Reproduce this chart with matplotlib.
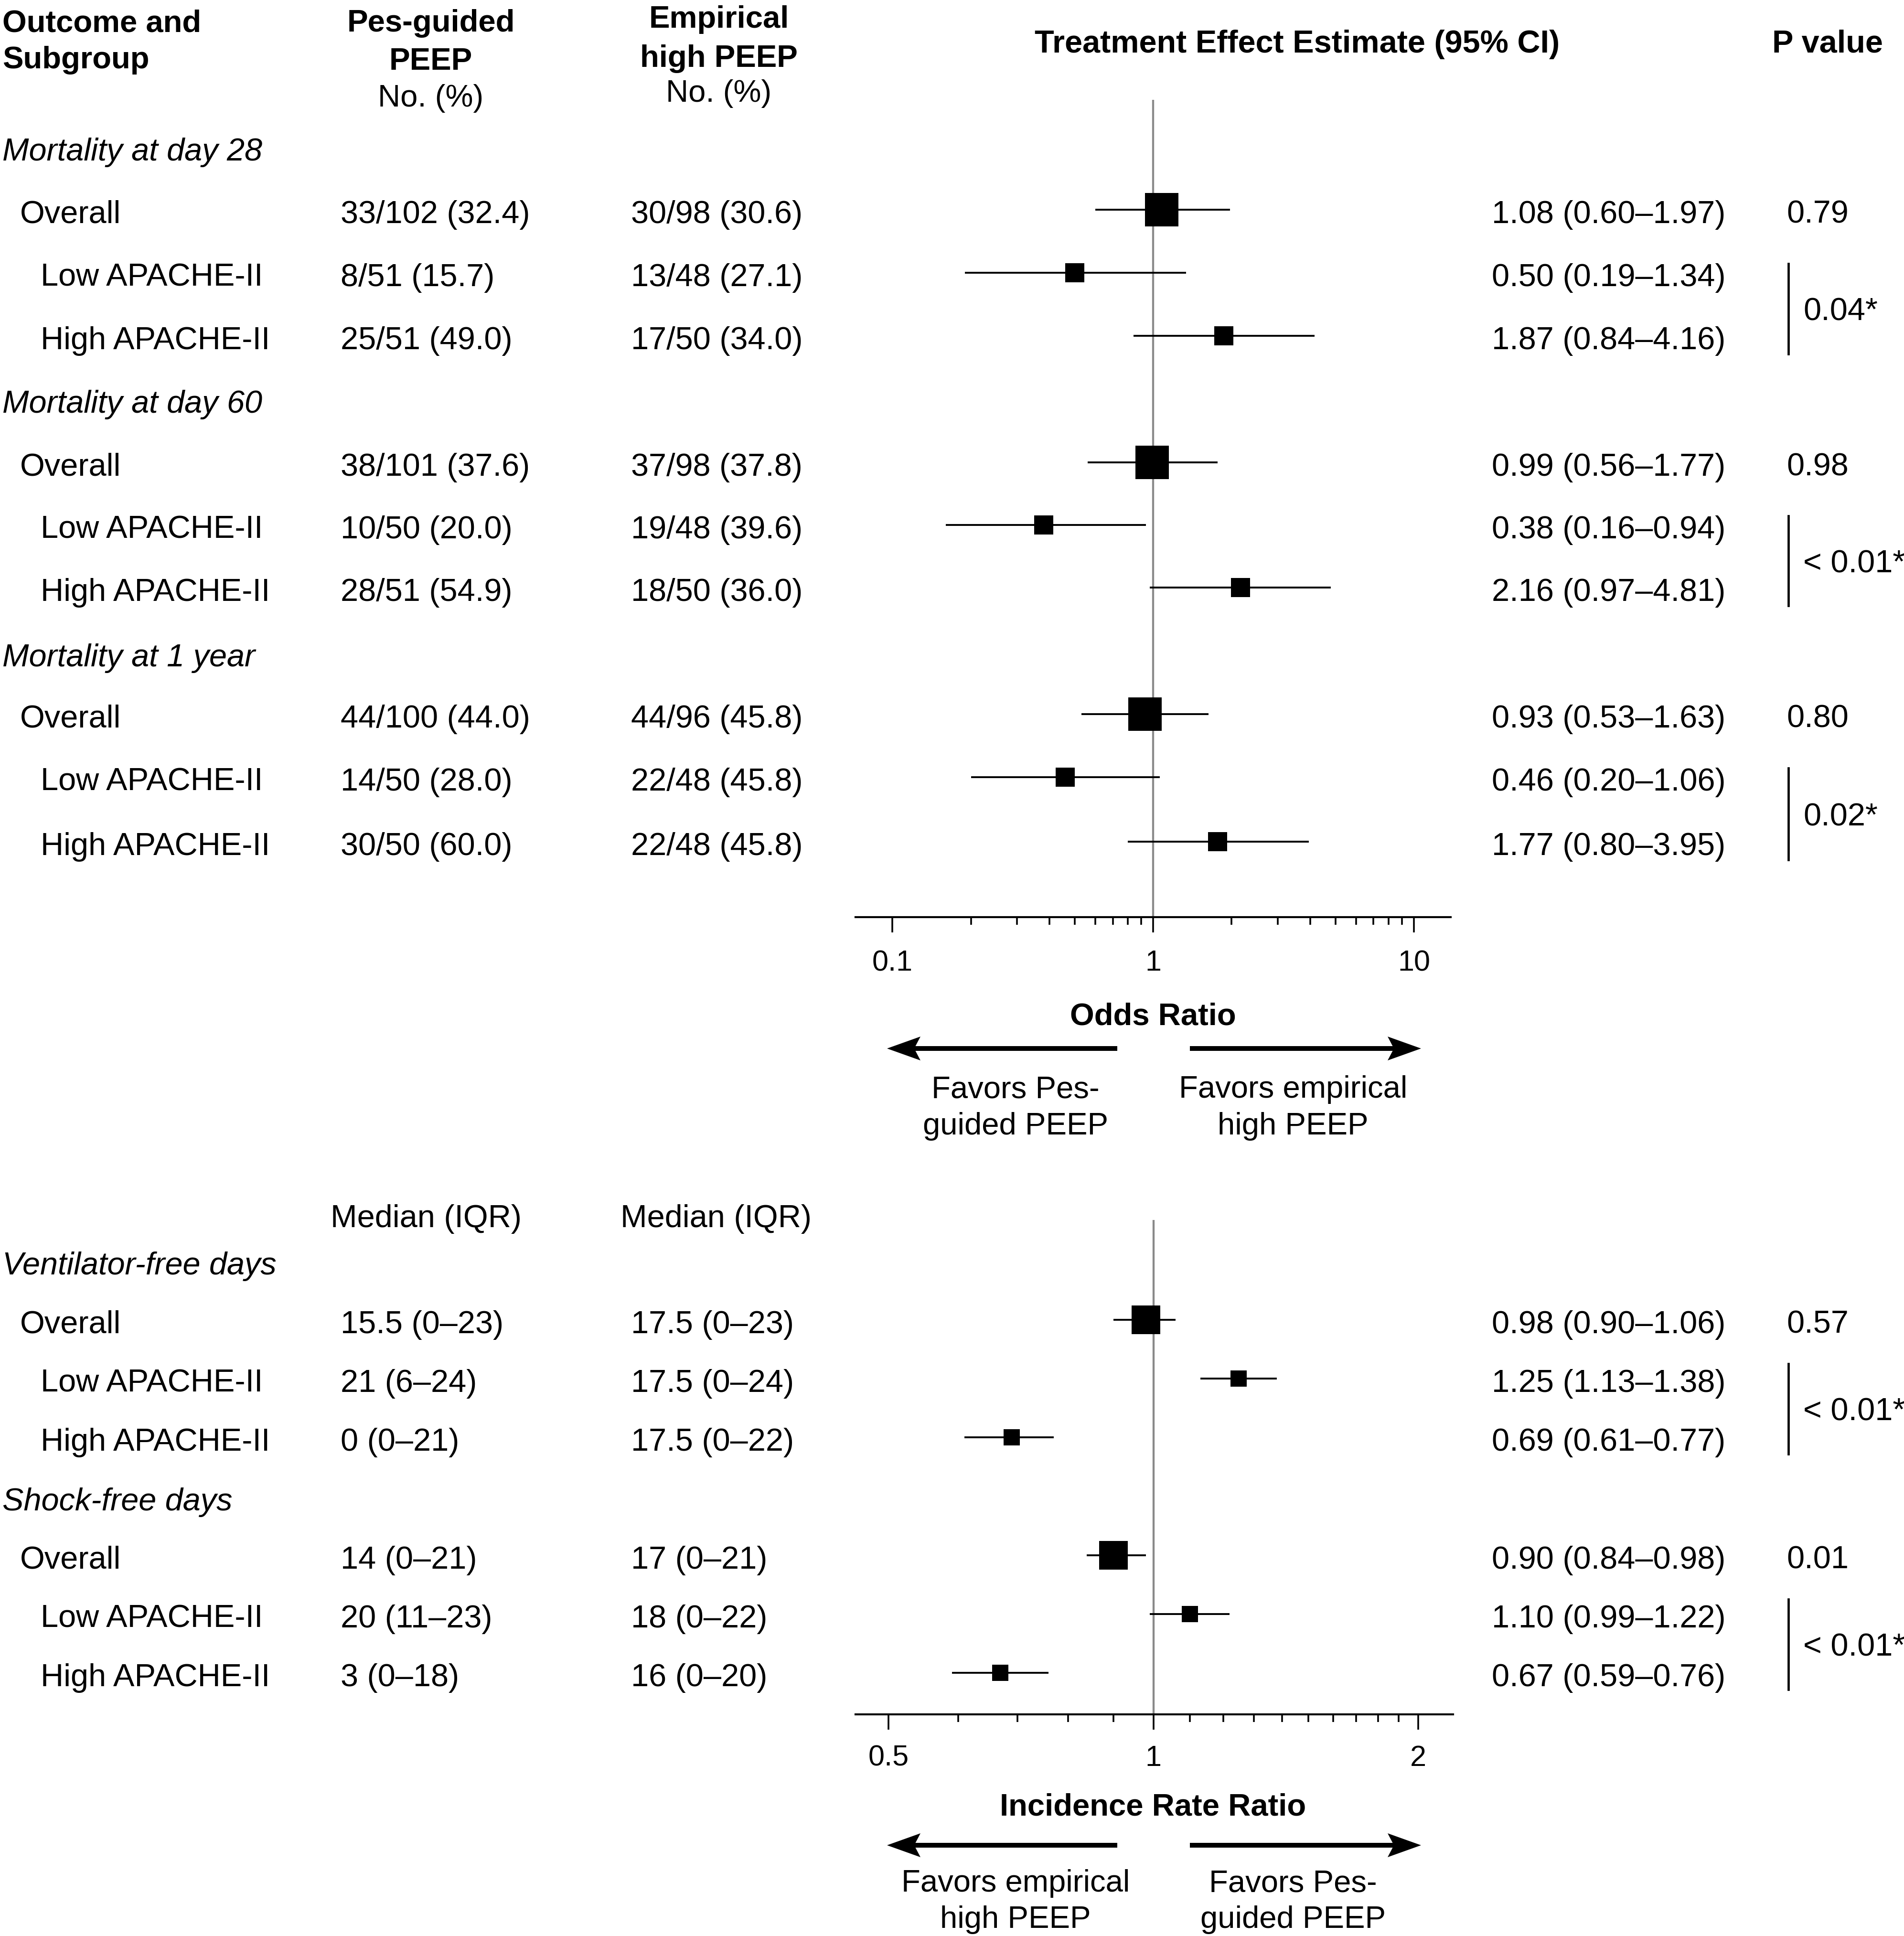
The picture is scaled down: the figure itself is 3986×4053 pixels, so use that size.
import matplotlib
matplotlib.use("Agg")
import matplotlib.pyplot as plt
from matplotlib.patches import FancyArrow
from matplotlib.ticker import NullFormatter

plt.rcParams['font.family'] = ['Liberation Sans', 'DejaVu Sans']

W, H, DPI = 3986, 4053, 100

# ---------------- data ----------------
subgroups = ["Overall", "Low APACHE-II", "High APACHE-II"]

mort_outcomes = ["Mortality at day 28", "Mortality at day 60", "Mortality at 1 year"]
mort_pes = [["33/102 (32.4)", "8/51 (15.7)", "25/51 (49.0)"],
            ["38/101 (37.6)", "10/50 (20.0)", "28/51 (54.9)"],
            ["44/100 (44.0)", "14/50 (28.0)", "30/50 (60.0)"]]
mort_emp = [["30/98 (30.6)", "13/48 (27.1)", "17/50 (34.0)"],
            ["37/98 (37.8)", "19/48 (39.6)", "18/50 (36.0)"],
            ["44/96 (45.8)", "22/48 (45.8)", "22/48 (45.8)"]]
mort_or = [[1.08, 0.50, 1.87], [0.99, 0.38, 2.16], [0.93, 0.46, 1.77]]
mort_lo = [[0.60, 0.19, 0.84], [0.56, 0.16, 0.97], [0.53, 0.20, 0.80]]
mort_hi = [[1.97, 1.34, 4.16], [1.77, 0.94, 4.81], [1.63, 1.06, 3.95]]
mort_p_overall = ["0.79", "0.98", "0.80"]
mort_p_inter = ["0.04*", "< 0.01*", "0.02*"]

days_outcomes = ["Ventilator-free days", "Shock-free days"]
days_pes = [["15.5 (0–23)", "21 (6–24)", "0 (0–21)"],
            ["14 (0–21)", "20 (11–23)", "3 (0–18)"]]
days_emp = [["17.5 (0–23)", "17.5 (0–24)", "17.5 (0–22)"],
            ["17 (0–21)", "18 (0–22)", "16 (0–20)"]]
days_irr = [[0.98, 1.25, 0.69], [0.90, 1.10, 0.67]]
days_lo = [[0.90, 1.13, 0.61], [0.84, 0.99, 0.59]]
days_hi = [[1.06, 1.38, 0.77], [0.98, 1.22, 0.76]]
days_p_overall = ["0.57", "0.01"]
days_p_inter = ["< 0.01*", "< 0.01*"]

or_ticks = [0.1, 1, 10]
or_tick_labels = ["0.1", "1", "10"]
or_minor = [0.2, 0.3, 0.4, 0.5, 0.6, 0.7, 0.8, 0.9, 2, 3, 4, 5, 6, 7, 8, 9]
irr_ticks = [0.5, 1, 2]
irr_tick_labels = ["0.5", "1", "2"]
irr_minor = [0.6, 0.7, 0.8, 0.9, 1.1, 1.2, 1.3, 1.4, 1.5, 1.6, 1.7, 1.8, 1.9]

# ---------------- layout (pixels) ----------------
X_HEAD, X_OVER, X_SUB = 5, 42, 85
X_PES, X_EMP = 713, 1321
X_EST, X_P = 3123, 3740
X_BR, X_BRT = 3744, 3775

mort_head_y = [312, 840, 1371]
mort_row_y = [[439, 571, 703], [968, 1099, 1230], [1495, 1627, 1762]]
days_head_y = [2644, 3138]
days_row_y = [[2763, 2886, 3009], [3256, 3379, 3502]]

fig = plt.figure(figsize=(W / DPI, H / DPI), dpi=DPI)
bg = fig.add_axes([0, 0, 1, 1])
bg.set_xlim(0, W)
bg.set_ylim(H, 0)
bg.axis('off')


def put(x, y, s, fs=48, ha='left', weight='normal', style='normal'):
    # y is the visual centre of the capitals
    bg.text(x, y + 0.358 * fs * DPI / 72, s, fontsize=fs, ha=ha, va='baseline',
            fontweight=weight, fontstyle=style)


def forest_axes(x0, x1, ytop, yaxis):
    ax = fig.add_axes([x0 / W, 1 - yaxis / H, (x1 - x0) / W, (yaxis - ytop) / H])
    ax.set_ylim(yaxis, ytop)
    ax.patch.set_alpha(0)
    for s in ['top', 'left', 'right']:
        ax.spines[s].set_visible(False)
    ax.spines['bottom'].set_linewidth(3.0)
    ax.set_yticks([])
    return ax


def style_ticks(ax, pad):
    ax.xaxis.set_minor_formatter(NullFormatter())
    ax.tick_params(axis='x', which='major', length=23, width=2.6, labelsize=44, pad=pad)
    ax.tick_params(axis='x', which='minor', length=11.5, width=2.6)


def arrows(y, labels_left, labels_right, y1, y2):
    for tail, tip in [(2339, 1857), (2491, 2975)]:
        bg.add_patch(FancyArrow(tail, y, tip - tail, 0, width=10, head_width=50,
                                head_length=70, length_includes_head=True,
                                overhang=0.15, color='black', lw=0))
    put(2126, y1, labels_left[0], fs=47, ha='center')
    put(2126, y2, labels_left[1], fs=47, ha='center')
    put(2707, y1, labels_right[0], fs=47, ha='center')
    put(2707, y2, labels_right[1], fs=47, ha='center')


# ---------------- headers ----------------
put(X_HEAD, 43, "Outcome and", fs=47, weight='bold')
put(X_HEAD, 120, "Subgroup", fs=47, weight='bold')
put(902, 43, "Pes-guided", fs=47, ha='center', weight='bold')
put(902, 123, "PEEP", fs=47, ha='center', weight='bold')
put(902, 200, "No. (%)", fs=47, ha='center')
put(1505, 35, "Empirical", fs=47, ha='center', weight='bold')
put(1505, 117, "high PEEP", fs=47, ha='center', weight='bold')
put(1505, 190, "No. (%)", fs=47, ha='center')
put(2716, 86, "Treatment Effect Estimate (95% CI)", fs=48, ha='center', weight='bold')
put(3826, 86, "P value", fs=48, ha='center', weight='bold')

# ---------------- mortality (odds ratio) ----------------
ax1 = forest_axes(1791, 3037, 209, 1920)
ax1.set_xscale('log')
ax1.set_xlim(0.0722, 13.84)
ax1.axvline(1, color='#8a8a8a', lw=3.1, zorder=1)
ms_sizes = [49.7, 29.5, 29.5]
for g in range(3):
    put(X_HEAD, mort_head_y[g], mort_outcomes[g], fs=48, style='italic')
    for i in range(3):
        y = mort_row_y[g][i]
        put(X_OVER if i == 0 else X_SUB, y + 4, subgroups[i])
        put(X_PES, y + 4, mort_pes[g][i])
        put(X_EMP, y + 4, mort_emp[g][i])
        put(X_EST, y + 4, "%.2f (%.2f–%.2f)" % (mort_or[g][i], mort_lo[g][i], mort_hi[g][i]))
        ax1.hlines(y, mort_lo[g][i], mort_hi[g][i], color='black', lw=2.8, zorder=2)
        ax1.plot(mort_or[g][i], y, 's', color='black', ms=ms_sizes[i], mew=0, zorder=3)
    put(X_P, mort_row_y[g][0] + 4, mort_p_overall[g])
    ylo, yhi = mort_row_y[g][1], mort_row_y[g][2]
    bg.plot([X_BR, X_BR], [ylo - 19, yhi + 38], color='black', lw=3.4)
    put(X_BRT, (ylo + yhi) / 2 + 10, mort_p_inter[g])
ax1.set_xticks(or_ticks, or_tick_labels)
ax1.set_xticks(or_minor, minor=True)
style_ticks(ax1, 26)
put(2414, 2122, "Odds Ratio", fs=47, ha='center', weight='bold')
arrows(2195, ["Favors Pes-", "guided PEEP"], ["Favors empirical", "high PEEP"], 2275, 2352)

# ---------------- days (incidence rate ratio) ----------------
put(892, 2545, "Median (IQR)", ha='center')
put(1499, 2545, "Median (IQR)", ha='center')
ax2 = forest_axes(1791, 3042, 2554, 3589)
ax2.set_xscale('log', base=2)
ax2.set_xlim(0.4585, 2.19)
ax2.axvline(1, color='#8a8a8a', lw=3.1, zorder=1)
ds_sizes = [43.2, 23.8, 23.8]
for g in range(2):
    put(X_HEAD, days_head_y[g], days_outcomes[g], fs=48, style='italic')
    for i in range(3):
        y = days_row_y[g][i]
        put(X_OVER if i == 0 else X_SUB, y + 4, subgroups[i])
        put(X_PES, y + 4, days_pes[g][i])
        put(X_EMP, y + 4, days_emp[g][i])
        put(X_EST, y + 4, "%.2f (%.2f–%.2f)" % (days_irr[g][i], days_lo[g][i], days_hi[g][i]))
        ax2.hlines(y, days_lo[g][i], days_hi[g][i], color='black', lw=2.8, zorder=2)
        ax2.plot(days_irr[g][i], y, 's', color='black', ms=ds_sizes[i], mew=0, zorder=3)
    put(X_P, days_row_y[g][0] + 4, days_p_overall[g])
    ylo, yhi = days_row_y[g][1], days_row_y[g][2]
    bg.plot([X_BR, X_BR], [ylo - 31, yhi + 35], color='black', lw=3.4)
    put(X_BRT, (ylo + yhi) / 2 + 2, days_p_inter[g])
ax2.set_xticks(irr_ticks, irr_tick_labels)
ax2.set_xticks(irr_minor, minor=True)
style_ticks(ax2, 23)
put(2414, 3777, "Incidence Rate Ratio", fs=47, ha='center', weight='bold')
arrows(3863, ["Favors empirical", "high PEEP"], ["Favors Pes-", "guided PEEP"], 3937, 4013)

fig.savefig("out.png", dpi=DPI)
